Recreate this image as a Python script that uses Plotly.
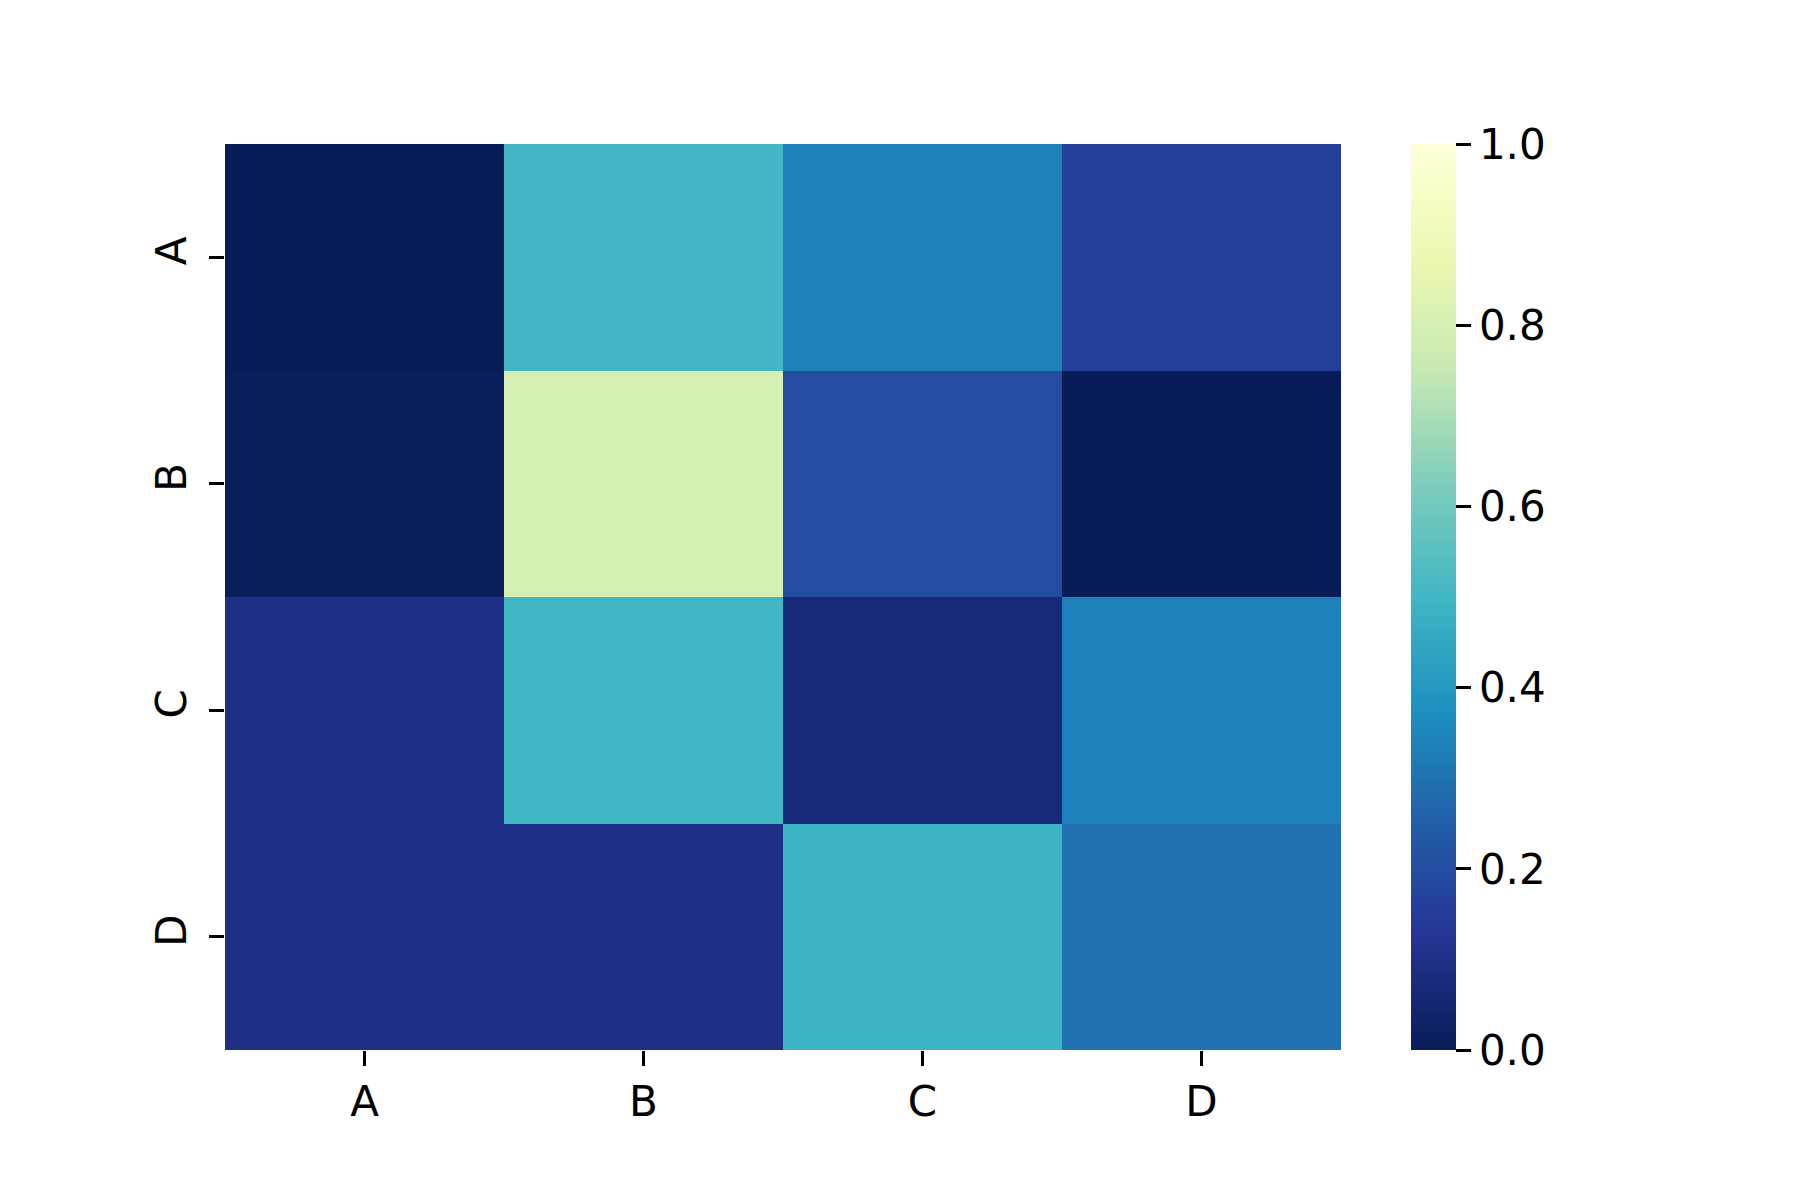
import plotly.graph_objects as go

# labels and cell values (rows top to bottom, columns left to right)
labels = ["A", "B", "C", "D"]
row_a = [0.00, 0.505, 0.336, 0.16]
row_b = [0.004, 0.80, 0.20, 0.00]
row_c = [0.10, 0.50, 0.067, 0.336]
row_d = [0.10, 0.10, 0.49, 0.30]
cbar_ticks = [0.0, 0.2, 0.4, 0.6, 0.8, 1.0]

# reversed YlGnBu (dark navy at 0, pale yellow at 1)
ylgnbu_r = [
    [0.0, "rgb(8,29,88)"],
    [0.125, "rgb(37,52,148)"],
    [0.25, "rgb(34,94,168)"],
    [0.375, "rgb(29,145,192)"],
    [0.5, "rgb(65,182,196)"],
    [0.625, "rgb(127,205,187)"],
    [0.75, "rgb(199,233,180)"],
    [0.875, "rgb(237,248,177)"],
    [1.0, "rgb(255,255,217)"],
]

fig = go.Figure()
fig.add_trace(go.Heatmap(
    z=[row_a, row_b, row_c, row_d],
    x=labels,
    y=labels,
    zmin=0, zmax=1,
    colorscale=ylgnbu_r,
    colorbar=dict(
        x=1.0627, xanchor="left", xpad=0,
        y=0.5, yanchor="middle", len=1, lenmode="fraction", ypad=0,
        thickness=45, thicknessmode="pixels",
        outlinewidth=0,
        tickvals=cbar_ticks, tickformat=".1f",
        # small spacer so the labels sit a bit further from the ticks
        tickprefix="<span style='font-size:24px'>\u00a0</span>",
        ticks="outside", ticklen=15, tickwidth=3, tickcolor="black",
        tickfont=dict(size=42, color="black"),
    ),
))

# page body adds 8px, so margins are shifted to land the plot at 225..1341 x 144..1050
fig.update_layout(
    width=1800, height=1200,
    margin=dict(l=217, r=467, t=136, b=158),
    paper_bgcolor="white", plot_bgcolor="white",
    font=dict(family="DejaVu Sans", size=42, color="black"),
)
fig.update_xaxes(ticks="outside", ticklen=15, tickwidth=3, tickcolor="black",
                 showgrid=False, zeroline=False, showline=False)
fig.update_yaxes(ticks="outside", ticklen=15, tickwidth=3, tickcolor="black",
                 showgrid=False, zeroline=False, showline=False,
                 autorange="reversed", tickangle=-90, ticklabelstandoff=6)

fig.write_html("out.html")
